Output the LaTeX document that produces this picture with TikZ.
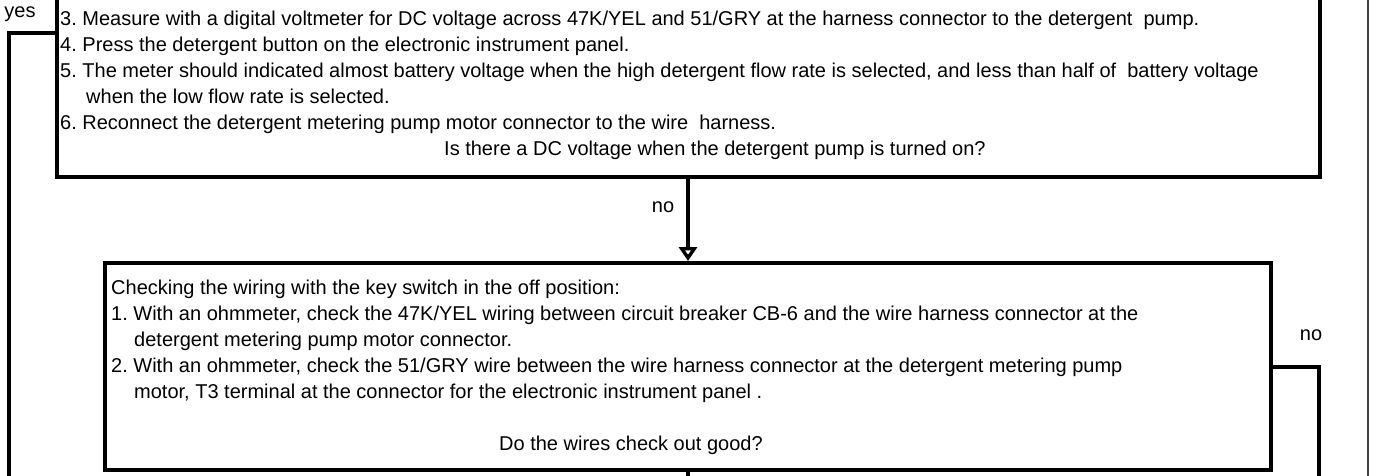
\documentclass[tikz,border=0pt]{standalone}
\usepackage{fontspec}
\setmainfont{Liberation Sans}
\usetikzlibrary{arrows.meta}
\begin{document}
\frenchspacing
\begin{tikzpicture}[x=1pt,y=-1pt,
  box/.style={draw,line width=3.6pt,rectangle,inner sep=0pt,outer sep=0pt},
  txt/.style={anchor=base west,inner sep=0pt,font=\fontsize{20}{26}\selectfont\frenchspacing},
  lbl/.style={inner sep=0pt,font=\fontsize{20}{26}\selectfont},
  conn/.style={line width=3.6pt},
  rail/.style={line width=2.2pt,black!75},
  tip/.style={-{Triangle[open,width=18pt,length=14pt,line width=3.4pt]}}]
\useasboundingbox (0,0) rectangle (1376,476);
% boxes
\node[box,minimum width=1263pt,minimum height=237pt] (top) at (688.5,58.5) {};
\node[box,minimum width=1166pt,minimum height=207pt] (chk) at (688,366.5) {};
% top box text
\node[txt] (t3) at (60,26) {3. Measure with a digital voltmeter for DC voltage across 47K/YEL and 51/GRY at the harness connector to the detergent\ \ pump.};
\node[txt] (t4) at (60,52) {4. Press the detergent button on the electronic instrument panel.};
\node[txt] (t5) at (60,78) {5. The meter should indicated almost battery voltage when the high detergent flow rate is selected, and less than half of\ \ battery voltage};
\node[txt] (t5b) at (86,104) {when the low flow rate is selected.};
\node[txt] (t6) at (60,130) {6. Reconnect the detergent metering pump motor connector to the wire\ \ harness.};
\node[txt] (tq) at (444,156) {Is there a DC voltage when the detergent pump is turned on?};
% second box text
\node[txt] (b0) at (111,294) {Checking the wiring with the key switch in the off position:};
\node[txt] (b1) at (111,320) {1. With an ohmmeter, check the 47K/YEL wiring between circuit breaker CB-6 and the wire harness connector at the};
\node[txt] (b1b) at (134,346) {detergent metering pump motor connector.};
\node[txt] (b2) at (111,372) {2. With an ohmmeter, check the 51/GRY wire between the wire harness connector at the detergent metering pump};
\node[txt] (b2b) at (134,398) {motor, T3 terminal at the connector for the electronic instrument panel .};
\node[txt] (bq) at (499,450) {Do the wires check out good?};
% labels
\node[lbl] (yes) at (20,14) {yes};
\node[lbl] (no1) at (663,207) {no};
\node[lbl] (no2) at (1311,335) {no};
% coordinates
\coordinate (yesrow) at (0,33);
\coordinate (yesend) at (9,490);
\coordinate (norow) at (0,367);
\coordinate (noend) at (1319,490);
\coordinate (downend) at (688,490);
\coordinate (railtop) at (1368,-10);
\coordinate (railbot) at (1368,490);
% connectors
\draw[conn] (top.west |- yesrow) -| (yesend);
\draw[conn,tip] (chk.north |- top.south) -- ([yshift=2pt]chk.north);
\draw[conn] (chk.south) -- (downend);
\draw[conn] (chk.east |- norow) -| (noend);
\draw[rail] (railtop) -- (railbot);
\end{tikzpicture}
\end{document}
